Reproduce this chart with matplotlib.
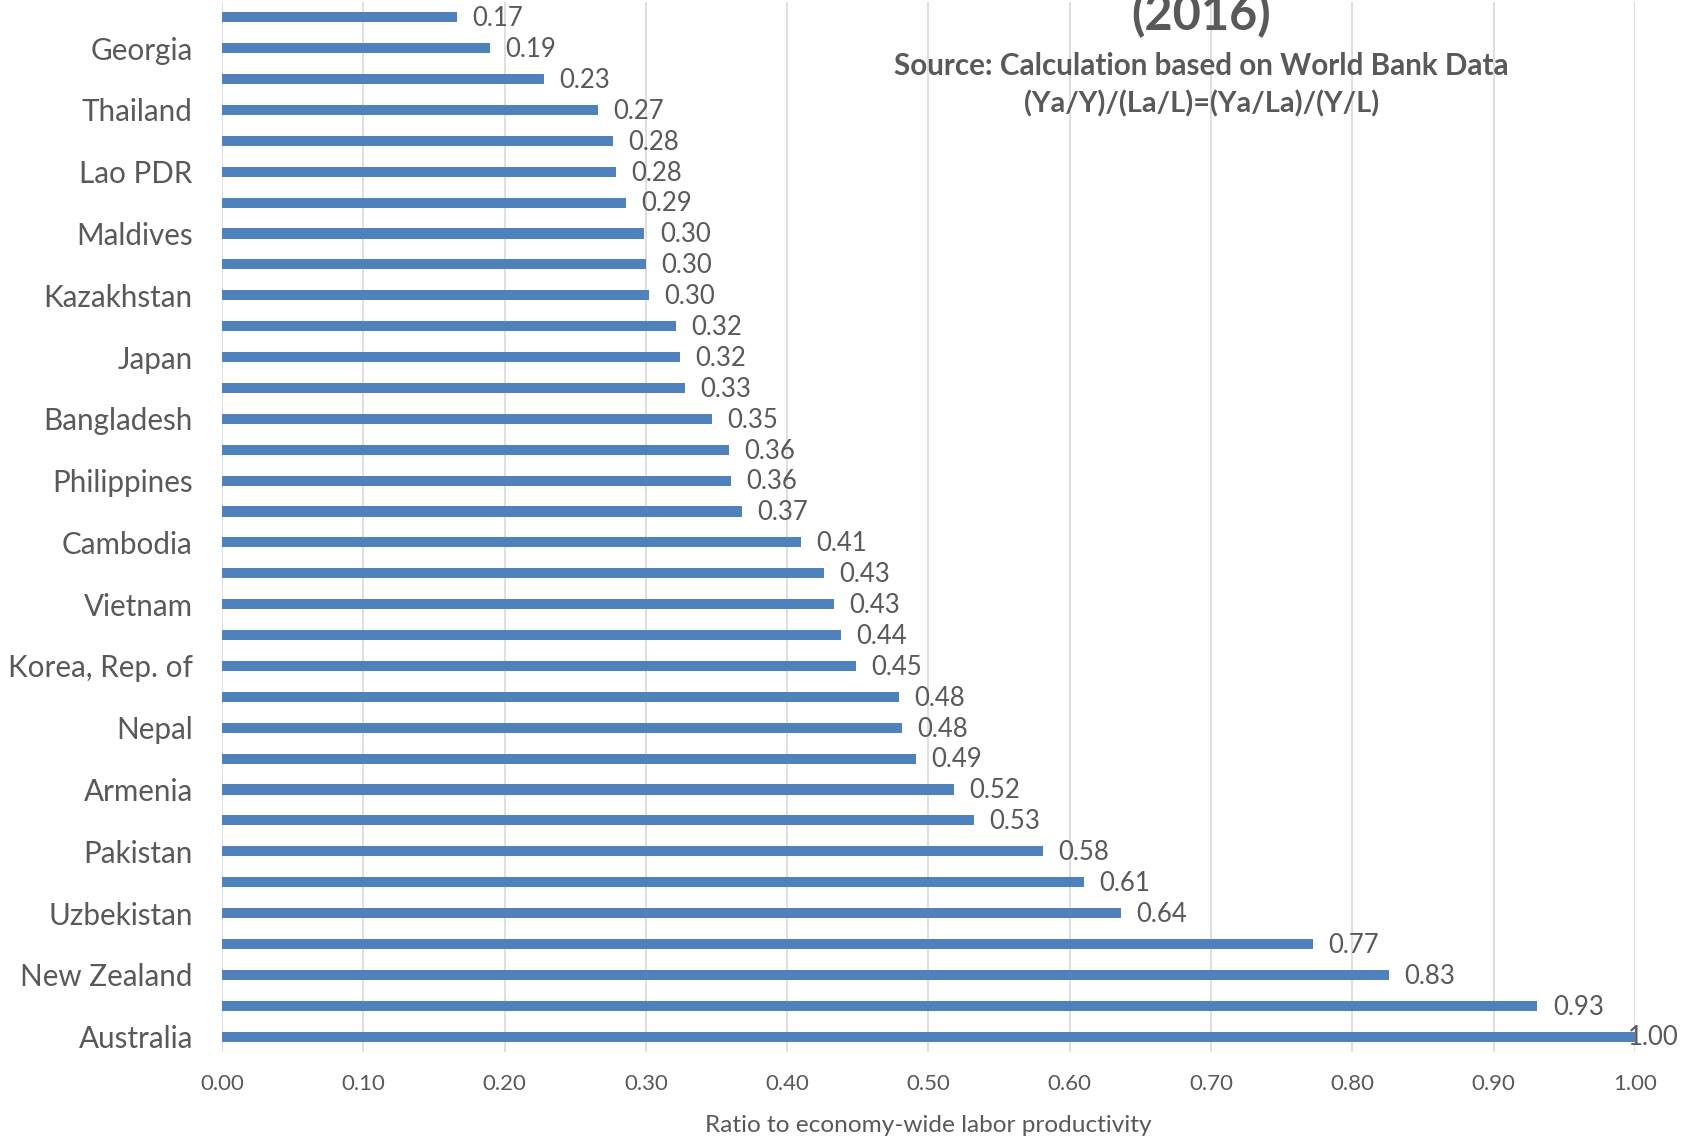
import numpy as np
import matplotlib
matplotlib.use("Agg")
import matplotlib.pyplot as plt

# ---------------------------------------
# Data (top to bottom, as in the chart)
# ---------------------------------------

# only every other category name is shown on the axis
countries = [
    "", "Georgia", "", "Thailand", "", "Lao PDR", "", "Maldives",
    "", "Kazakhstan", "", "Japan", "", "Bangladesh", "", "Philippines",
    "", "Cambodia", "", "Vietnam", "", "Korea, Rep. of", "", "Nepal",
    "", "Armenia", "", "Pakistan", "", "Uzbekistan", "", "New Zealand",
    "", "Australia",
]

ratios = [
    0.166, 0.190, 0.228, 0.266, 0.277, 0.279, 0.286, 0.299,
    0.300, 0.302, 0.321, 0.324, 0.328, 0.347, 0.359, 0.360,
    0.368, 0.410, 0.426, 0.433, 0.438, 0.449, 0.479, 0.481,
    0.491, 0.518, 0.532, 0.581, 0.610, 0.636, 0.772, 0.826,
    0.931, 1.000,
]

x_ticks = np.arange(0, 1.01, 0.1)

title = "(2016)"
subtitle_1 = "Source: Calculation based on World Bank Data"
subtitle_2 = "(Ya/Y)/(La/L)=(Ya/La)/(Y/L)"
x_label = "Ratio to economy-wide labor productivity"

# ---------------------------------------
# Style
# ---------------------------------------

plt.rcParams["font.family"] = ["Lato", "DejaVu Sans"]

bar_color = "#4f81bd"
text_color = "#595959"
grid_color = "#d9d9d9"

# ---------------------------------------
# Plot
# ---------------------------------------

fig = plt.figure(figsize=(16.92, 11.36), dpi=100)
ax = fig.add_axes([0.1312, 0.0739, 0.8351, 0.9245])

y = np.arange(len(ratios))

ax.barh(y, ratios, height=0.33, color=bar_color, zorder=3)

for yi, v in zip(y, ratios):
    if v >= max(ratios):
        off = -5
    else:
        off = 11
    ax.annotate(
        f"{v:.2f}",
        xy=(v, yi),
        xytext=(off, -1),
        textcoords="offset points",
        ha="left",
        va="center",
        fontsize=18.5,
        color=text_color,
        zorder=4,
    )

ax.set_ylim(len(ratios) - 0.5, -0.5)
ax.set_xlim(0, 1.0)

ax.set_yticks(y)
ax.set_yticklabels(countries, fontsize=21.3, color=text_color)

ax.set_xticks(x_ticks)
ax.set_xticklabels([f"{t:.2f}" for t in x_ticks], fontsize=16, color=text_color)

ax.tick_params(axis="y", length=0, pad=21)
ax.tick_params(axis="x", length=0, pad=16)

ax.grid(axis="x", color=grid_color, linewidth=1.2, zorder=0)
ax.grid(axis="y", visible=False)

for s in ax.spines.values():
    s.set_visible(False)

ax.set_xlabel(x_label, fontsize=17.6, color=text_color, labelpad=15)

# title is partly cut off at the top of the picture
fig.text(0.71, 0.9736, title, ha="center", va="baseline",
         fontsize=35, fontweight="bold", color=text_color)
fig.text(0.71, 1 - 66 / 1136, subtitle_1, ha="center", va="center",
         fontsize=21.3, fontweight="bold", color=text_color)
fig.text(0.71, 1 - 104 / 1136, subtitle_2, ha="center", va="center",
         fontsize=20.8, fontweight="bold", color=text_color)

fig.savefig("out.png", dpi=100)
